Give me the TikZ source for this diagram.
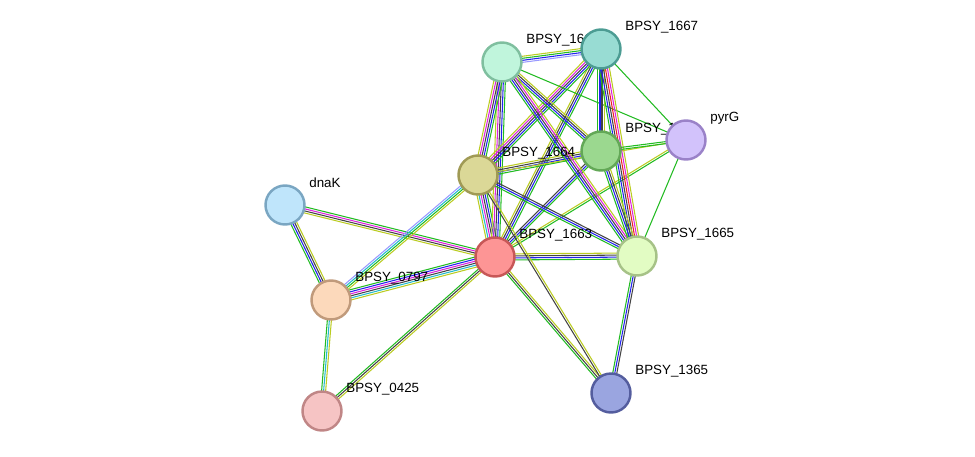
\documentclass[tikz,border=0pt]{standalone}
\usepackage{fontspec}
\setmainfont{Liberation Sans}
\usetikzlibrary{calc}
\definecolor{cNb}{HTML}{22BB22}
\definecolor{cCo}{HTML}{2222EE}
\definecolor{cEx}{HTML}{444444}
\definecolor{cEp}{HTML}{DD22DD}
\definecolor{cDb}{HTML}{22BBCC}
\definecolor{cTm}{HTML}{BBCC22}
\definecolor{cHo}{HTML}{9999FF}
\definecolor{cFu}{HTML}{EE2222}
% parallel evidence lines between two proteins: from, to, count, colours
\newcommand\Link[4]{%
    \foreach \c [count=\i] in {#4} {
        \pgfmathsetmacro\off{(\i-(#3+1)/2)*1.15}
        \draw[\c] ($(#1)!\off pt!90:(#2)$) -- ($(#2)!\off pt!-90:(#1)$);
    }
}
\newcommand\Protein[2]{%
    \node[label] at ($(#1)+(18,-22)$) {#2};
}
\tikzset{
    label/.style={anchor=west,font=\fontsize{7.6}{8}\selectfont},
    prot/.style={circle,minimum size=0.78cm,line width=1.4pt,inner sep=0pt},
}
\begin{document}
\begin{tikzpicture}[x=0.02cm,y=-0.02cm,line width=0.6pt]
    \useasboundingbox (0,0) rectangle (975,457);
    % positions
    \coordinate (n1666) at (502,62);
    \coordinate (n1667) at (601,49);
    \coordinate (pyrG) at (686,140);
    \coordinate (n1668) at (601,151);
    \coordinate (n1664) at (478,175);
    \coordinate (dnaK) at (285,205);
    \coordinate (n1663) at (495,257);
    \coordinate (n1665) at (637,256);
    \coordinate (n0797) at (331,300);
    \coordinate (n0425) at (322,411);
    \coordinate (n1365) at (611,393);
    % edges
    \Link{n1663}{n1664}{6}{cNb,cCo,cEx,cEp,cDb,cTm}
    \Link{n1663}{n1665}{4}{cNb,cCo,cEx,cTm}
    \Link{n1663}{n1666}{5}{cNb,cCo,cEx,cEp,cTm}
    \Link{n1663}{n1667}{4}{cNb,cCo,cEx,cTm}
    \Link{n1663}{n1668}{3}{cNb,cCo,cEx}
    \Link{n1663}{pyrG}{2}{cNb,cTm}
    \Link{n1663}{n1365}{3}{cNb,cEx,cTm}
    \Link{n1663}{n0797}{6}{cNb,cCo,cEp,cEx,cDb,cTm}
    \Link{n1663}{dnaK}{4}{cNb,cEp,cEx,cTm}
    \Link{n1663}{n0425}{3}{cNb,cEx,cTm}
    \Link{n1664}{n1666}{5}{cNb,cCo,cEx,cEp,cTm}
    \Link{n1664}{n1667}{5}{cNb,cCo,cEx,cEp,cTm}
    \Link{n1664}{n1668}{4}{cNb,cCo,cEx,cTm}
    \Link{n1664}{n1665}{3}{cNb,cCo,cEx}
    \Link{n1664}{n0797}{4}{cHo,cDb,cNb,cTm}
    \Link{n1664}{n1365}{2}{cEx,cTm}
    \Link{n1664}{pyrG}{1}{cTm}
    \Link{n1666}{n1667}{4}{cHo,cCo,cNb,cTm}
    \Link{n1666}{n1668}{4}{cNb,cCo,cEx,cTm}
    \Link{n1666}{n1665}{5}{cNb,cCo,cEx,cEp,cTm}
    \Link{n1666}{pyrG}{1}{cNb}
    \Link{n1667}{n1668}{4}{cNb,cCo,cEx,cTm}
    \Link{n1667}{n1665}{6}{cNb,cCo,cEx,cFu,cEp,cTm}
    \Link{n1667}{pyrG}{1}{cNb}
    \Link{n1668}{pyrG}{2}{cNb,cNb}
    \Link{n1668}{n1665}{4}{cNb,cCo,cEx,cTm}
    \Link{n1665}{pyrG}{1}{cNb}
    \Link{n1665}{n1365}{3}{cNb,cCo,cEx}
    \Link{dnaK}{n0797}{4}{cNb,cCo,cEx,cTm}
    \Link{n0797}{n0425}{3}{cNb,cDb,cTm}
    % labels
    \Protein{n1666}{BPSY\_1666}
    \Protein{n1667}{BPSY\_1667}
    \Protein{pyrG}{pyrG}
    \Protein{n1668}{BPSY\_1668}
    \Protein{n1664}{BPSY\_1664}
    \Protein{dnaK}{dnaK}
    \Protein{n1663}{BPSY\_1663}
    \Protein{n1665}{BPSY\_1665}
    \Protein{n0797}{BPSY\_0797}
    \Protein{n0425}{BPSY\_0425}
    \Protein{n1365}{BPSY\_1365}
    % proteins
    \node[prot,fill={rgb,255:red,192;green,245;blue,220},draw={rgb,255:red,127;green,191;blue,159}] (c1666) at (n1666) {};
    \node[prot,fill={rgb,255:red,152;green,220;blue,211},draw={rgb,255:red,76;green,156;blue,147}] (c1667) at (n1667) {};
    \node[prot,fill={rgb,255:red,210;green,194;blue,251},draw={rgb,255:red,154;green,130;blue,200}] (cpyrG) at (pyrG) {};
    \node[prot,fill={rgb,255:red,155;green,216;blue,143},draw={rgb,255:red,99;green,168;blue,87}] (c1668) at (n1668) {};
    \node[prot,fill={rgb,255:red,219;green,216;blue,151},draw={rgb,255:red,160;green,154;blue,85}] (c1664) at (n1664) {};
    \node[prot,fill={rgb,255:red,191;green,229;blue,251},draw={rgb,255:red,122;green,166;blue,194}] (cdnaK) at (dnaK) {};
    \node[prot,fill={rgb,255:red,253;green,149;blue,149},draw={rgb,255:red,199;green,87;blue,87}] (c1663) at (n1663) {};
    \node[prot,fill={rgb,255:red,226;green,252;blue,195},draw={rgb,255:red,166;green,194;blue,135}] (c1665) at (n1665) {};
    \node[prot,fill={rgb,255:red,252;green,217;blue,187},draw={rgb,255:red,192;green,154;blue,123}] (c0797) at (n0797) {};
    \node[prot,fill={rgb,255:red,246;green,196;blue,196},draw={rgb,255:red,192;green,134;blue,134}] (c0425) at (n0425) {};
    \node[prot,fill={rgb,255:red,154;green,165;blue,224},draw={rgb,255:red,84;green,93;blue,158}] (c1365) at (n1365) {};
\end{tikzpicture}
\end{document}
